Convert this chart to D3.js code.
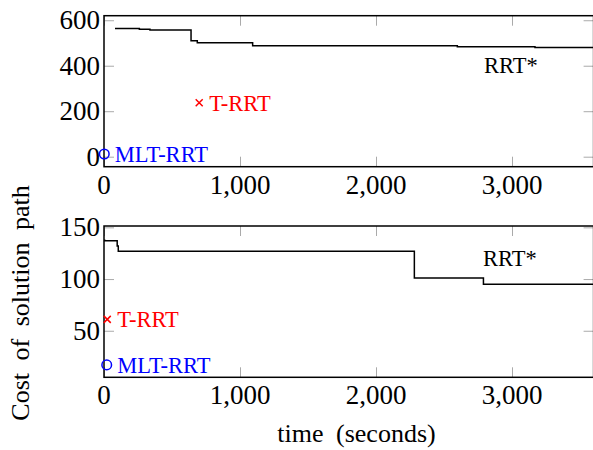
<!DOCTYPE html>
<html>
<head>
<meta charset="utf-8">
<script src="https://cdn.jsdelivr.net/npm/d3@7"></script>
<style>
  body { margin: 0; background: #fff; }
</style>
</head>
<body>
<svg id="chart" width="593" height="450"></svg>
<script>
// datos
const xTicks = [0, 1000, 2000, 3000];

// panel superior
const rrtTopX = [81, 260, 338, 640, 686, 1093, 2598, 3169, 3600];
const rrtTopY = [564, 560, 557, 510, 501, 488, 484, 480, 480];
const topTicks = [0, 200, 400, 600];
const topTrrt = [700, 237];
const topMlt = [2, 12];

// panel inferior
const rrtBotX = [0, 5, 92, 97, 105, 2282, 2790, 3600];
const rrtBotY = [137.5, 137, 137, 132, 127, 101, 95, 95];
const botTicks = [50, 100, 150];
const botTrrt = [24, 61];
const botMlt = [20, 17];

const serif = "'Liberation Serif', 'Times New Roman', serif";

const svg = d3.select('#chart').attr('font-family', serif);
const left = 104, right = 593.6;

const xScale = d3.scaleLinear().domain([0, 3600]).range([left, right]);

function panel(cfg) {
    const yScale = d3.scaleLinear().domain(cfg.domain).range([cfg.bottom, cfg.top]);
    const g = svg.append('g');

    // ticks grises hacia dentro
    const tickStyle = (sel) => {
        sel.select('.domain').remove();
        sel.selectAll('line').attr('stroke', '#aaa').attr('stroke-width', 1);
    };
    g.append('g').attr('transform', 'translate(0,' + cfg.bottom + ')')
        .call(d3.axisTop(xScale).tickValues(xTicks).tickSize(10).tickFormat(''))
        .call(tickStyle);
    g.append('g').attr('transform', 'translate(0,' + cfg.top + ')')
        .call(d3.axisBottom(xScale).tickValues(xTicks).tickSize(10).tickFormat(''))
        .call(tickStyle);
    g.append('g').attr('transform', 'translate(' + left + ',0)')
        .call(d3.axisRight(yScale).tickValues(cfg.ticks).tickSize(10).tickFormat(''))
        .call(tickStyle);
    g.append('g').attr('transform', 'translate(' + right + ',0)')
        .call(d3.axisLeft(yScale).tickValues(cfg.ticks).tickSize(10).tickFormat(''))
        .call(tickStyle);

    // etiquetas de los ejes
    g.append('g').selectAll('text').data(xTicks).enter().append('text')
        .attr('x', (d) => xScale(d)).attr('y', cfg.bottom + 27)
        .attr('text-anchor', 'middle').attr('font-size', 27)
        .text(d3.format(','));
    g.append('g').selectAll('text').data(cfg.ticks).enter().append('text')
        .attr('x', left - 4).attr('y', (d) => yScale(d) + 9)
        .attr('text-anchor', 'end').attr('font-size', 27)
        .text((d) => d);

    // linea RRT*
    const pts = cfg.rx.map((x, i) => [x, cfg.ry[i]]);
    g.append('path').datum(pts)
        .attr('d', d3.line().x((d) => xScale(d[0])).y((d) => yScale(d[1])).curve(d3.curveStepAfter))
        .attr('fill', 'none').attr('stroke', '#000').attr('stroke-width', 1.5);

    // marco
    g.append('rect').attr('x', left).attr('y', cfg.top)
        .attr('width', right - left).attr('height', cfg.bottom - cfg.top)
        .attr('fill', 'none').attr('stroke', '#000').attr('stroke-width', 1.5);

    // T-RRT
    const tx = xScale(cfg.trrt[0]), ty = yScale(cfg.trrt[1]);
    g.append('path').attr('d', 'M' + (tx - 3.5) + ',' + (ty - 3.5) + 'L' + (tx + 3.5) + ',' + (ty + 3.5) +
        'M' + (tx - 3.5) + ',' + (ty + 3.5) + 'L' + (tx + 3.5) + ',' + (ty - 3.5))
        .attr('stroke', '#f00').attr('stroke-width', 1.5);
    g.append('text').attr('x', tx + 10).attr('y', ty + 8)
        .attr('fill', '#f00').attr('font-size', 22.5).text('T-RRT');

    // MLT-RRT
    const mx = xScale(cfg.mlt[0]), my = yScale(cfg.mlt[1]);
    g.append('circle').attr('cx', mx).attr('cy', my).attr('r', 4.8)
        .attr('fill', 'none').attr('stroke', '#00f').attr('stroke-width', 1.5);
    g.append('text').attr('x', mx + 10.5).attr('y', my + 7.7)
        .attr('fill', '#00f').attr('font-size', 22.5).text('MLT-RRT');

    // RRT*
    g.append('text').attr('x', xScale(cfg.rrtLabel[0])).attr('y', yScale(cfg.rrtLabel[1]))
        .attr('font-size', 22.5).text('RRT*');
}

panel({ domain: [-44, 620], top: 15.7, bottom: 166.7, ticks: topTicks,
    rx: rrtTopX, ry: rrtTopY, trrt: topTrrt, mlt: topMlt, rrtLabel: [2794, 369] });
panel({ domain: [5, 151.3], top: 226, bottom: 377.3, ticks: botTicks,
    rx: rrtBotX, ry: rrtBotY, trrt: botTrrt, mlt: botMlt, rrtLabel: [2787, 112.6] });

// titulos
svg.append('text').attr('x', 356.5).attr('y', 442)
    .attr('text-anchor', 'middle').attr('font-size', 26).attr('word-spacing', 6)
    .text('time (seconds)');
svg.append('text').attr('transform', 'translate(29,303) rotate(-90)')
    .attr('text-anchor', 'middle').attr('font-size', 26).attr('word-spacing', 6)
    .text('Cost of solution path');
</script>
</body>
</html>
